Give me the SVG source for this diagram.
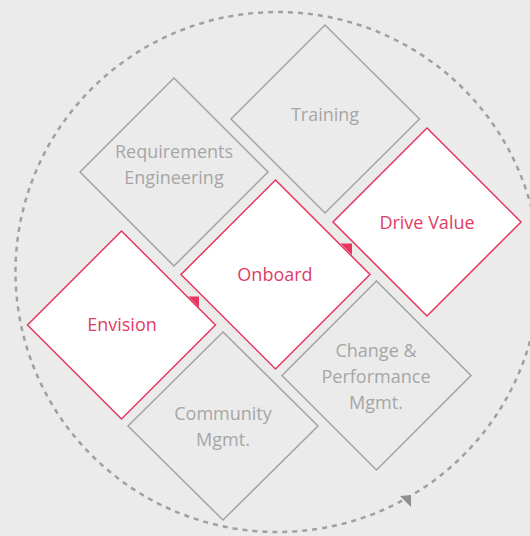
<svg xmlns="http://www.w3.org/2000/svg" width="530" height="536" viewBox="0 0 530 536">
<style>
.bg{fill:#ebebeb}
.g{fill:none;stroke:#a3a3a3;stroke-width:1.5}
.r{fill:#ffffff;stroke:#e6365f;stroke-width:1.5}
.tg{font-family:"Open Sans","Noto Sans",sans-serif;font-size:18px;fill:#a6a6a6;text-anchor:middle}
.tr{font-family:"Open Sans","Noto Sans",sans-serif;font-size:18px;fill:#e03d66;text-anchor:middle}
.ring{fill:none;stroke:#a0a0a0;stroke-width:2.5;stroke-dasharray:5 5}
.tri{fill:#e6365f}
</style>
<rect class="bg" x="0" y="0" width="530" height="536"/>
<g id="connectors">
<ellipse class="ring" cx="277.5" cy="272" rx="262" ry="260"/>
<polygon points="400,496 411,495 411,507" fill="#8f8f8f"/>
</g>
<g id="training">
<polygon class="g" points="325,25 419.5,119 325,213 231,119"/>
<text class="tg" x="325" y="121">Training</text>
</g>
<g id="requirements">
<polygon class="g" points="174,78 268,172 174,266 80,172"/>
<text class="tg" x="174" y="158">Requirements</text>
<text class="tg" x="174" y="184">Engineering</text>
</g>
<g id="change">
<polygon class="g" points="376.5,281 471,375.5 376.5,470 282,375.5"/>
<text class="tg" x="376" y="357">Change &amp;</text>
<text class="tg" x="376" y="383">Performance</text>
<text class="tg" x="376" y="409">Mgmt.</text>
</g>
<g id="community">
<polygon class="g" points="223,332 318,426 223,520 128,426"/>
<text class="tg" x="223" y="420">Community</text>
<text class="tg" x="223" y="446">Mgmt.</text>
</g>
<g id="drivevalue">
<polygon class="r" points="427,128 521,222 427,316 333,222"/>
<text class="tr" x="427" y="229">Drive Value</text>
</g>
<g id="onboard">
<polygon class="r" points="275.5,180 370,274.5 275.5,369 181,274.5"/>
<text class="tr" x="275" y="281">Onboard</text>
</g>
<g id="envision">
<polygon class="r" points="121.5,231 215.5,325 121.5,419 27.5,325"/>
<text class="tr" x="122" y="331">Envision</text>
</g>
<polygon class="tri" points="188.5,296.5 199,296.5 199,307.5"/>
<polygon class="tri" points="340.5,243.5 352,243.5 352,255"/>
</svg>
